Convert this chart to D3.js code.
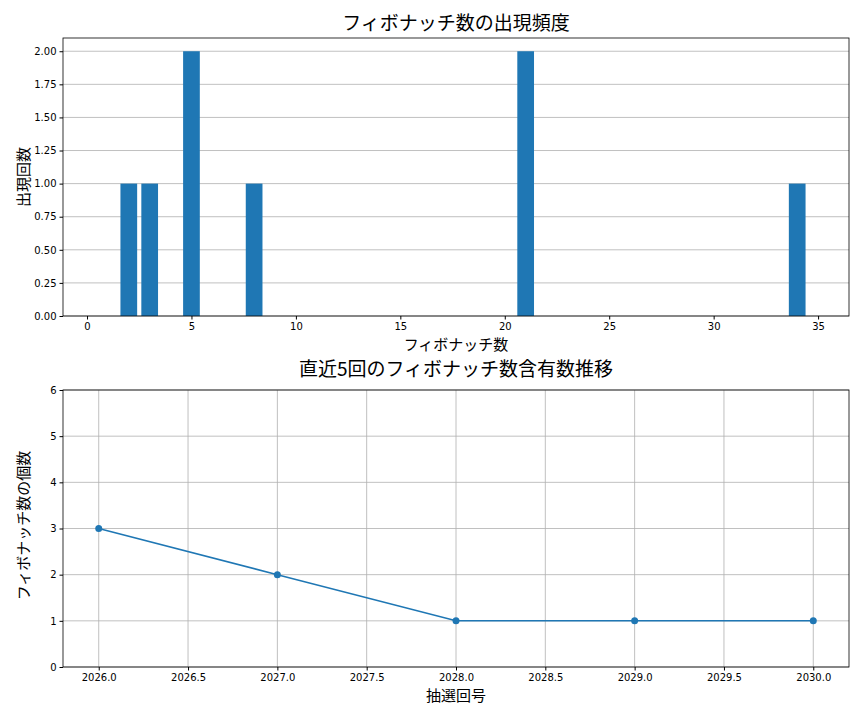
<!DOCTYPE html>
<html><head><meta charset="utf-8">
<script src="https://cdn.jsdelivr.net/npm/d3@7"></script>
<style>body{margin:0;background:#fff}text{font-family:"Noto Sans CJK JP",sans-serif}</style>
</head><body><svg id="viz" width="864" height="720"></svg>
<script>
const fibNumbers = [2, 3, 5, 8, 21, 34];
const fibCounts = [1, 1, 2, 1, 2, 1];
const draws = [2026, 2027, 2028, 2029, 2030];
const drawCounts = [3, 2, 1, 1, 1];
const yTicksTop = [0, 0.25, 0.5, 0.75, 1, 1.25, 1.5, 1.75, 2];
const xTicksTop = [0, 5, 10, 15, 20, 25, 30, 35];
const xTicksBot = [2026, 2026.5, 2027, 2027.5, 2028, 2028.5, 2029, 2029.5, 2030];
const yTicksBot = [0, 1, 2, 3, 4, 5, 6];

const svg = d3.select("#viz");
const C = "#1f77b4";

function frame(g, x, y, xt, yt, xfmt, yfmt, title, xl, yl, L, R, T, B) {
  g.append("g").selectAll("line").data(yt).join("line")
    .attr("x1", L).attr("x2", R).attr("y1", y).attr("y2", y).attr("stroke", "#b0b0b0").attr("stroke-width", 0.8);
  const ax = g.append("g").attr("transform", `translate(0,${B})`).call(d3.axisBottom(x).tickValues(xt).tickFormat(xfmt).tickSizeOuter(0).tickSize(3.5));
  const ay = g.append("g").attr("transform", `translate(${L},0)`).call(d3.axisLeft(y).tickValues(yt).tickFormat(yfmt).tickSizeOuter(0).tickSize(3.5));
  [ax, ay].forEach(a => { a.select(".domain").remove(); a.selectAll("text").attr("font-size", 10).attr("fill", "#000").style("font-family", "DejaVu Sans"); });
  g.append("text").attr("x", (L + R) / 2).attr("y", T - 8).attr("text-anchor", "middle").attr("font-size", 19).text(title);
  g.append("text").attr("x", (L + R) / 2).attr("y", B + 34).attr("text-anchor", "middle").attr("font-size", 15).text(xl);
  g.append("text").attr("transform", `translate(${L - 34},${(T + B) / 2}) rotate(-90)`).attr("text-anchor", "middle").attr("font-size", 15).text(yl);
}

// top chart
{
  const L = 63, R = 849, T = 38, B = 316;
  const x = d3.scaleLinear().domain([-1.15, 36.48]).range([L, R]);
  const y = d3.scaleLinear().domain([0, 2.1]).range([B, T]);
  const g = svg.append("g");
  frame(g, x, y, xTicksTop, yTicksTop, d3.format("d"), d3.format(".2f"), "フィボナッチ数の出現頻度", "フィボナッチ数", "出現回数", L, R, T, B);
  g.selectAll("rect.bar").data(fibNumbers).join("rect")
    .attr("x", (d) => x(d - 0.4)).attr("width", x(0.8) - x(0))
    .attr("y", (d, i) => y(fibCounts[i])).attr("height", (d, i) => B - y(fibCounts[i])).attr("fill", C);
  g.append("rect").attr("x", L).attr("y", T).attr("width", R - L).attr("height", B - T).attr("fill", "none").attr("stroke", "#000").attr("stroke-width", 0.8);
}

// bottom chart
{
  const L = 63, R = 849, T = 390, B = 667;
  const x = d3.scaleLinear().domain([2025.8, 2030.2]).range([L, R]);
  const y = d3.scaleLinear().domain([0, 6]).range([B, T]);
  const g = svg.append("g");
  g.append("g").selectAll("line").data(xTicksBot).join("line")
    .attr("x1", x).attr("x2", x).attr("y1", T).attr("y2", B).attr("stroke", "#b0b0b0").attr("stroke-width", 0.8);
  frame(g, x, y, xTicksBot, yTicksBot, d3.format(".1f"), d3.format("d"), "直近5回のフィボナッチ数含有数推移", "抽選回号", "フィボナッチ数の個数", L, R, T - 6, B);
  const line = d3.line().x((d) => x(d)).y((d, i) => y(drawCounts[i]));
  g.append("path").datum(draws).attr("d", line).attr("fill", "none").attr("stroke", C).attr("stroke-width", 1.5);
  g.selectAll("circle").data(draws).join("circle").attr("cx", x).attr("cy", (d, i) => y(drawCounts[i])).attr("r", 3.5).attr("fill", C);
  g.append("rect").attr("x", L).attr("y", T).attr("width", R - L).attr("height", B - T).attr("fill", "none").attr("stroke", "#000").attr("stroke-width", 0.8);
}
</script></body></html>
